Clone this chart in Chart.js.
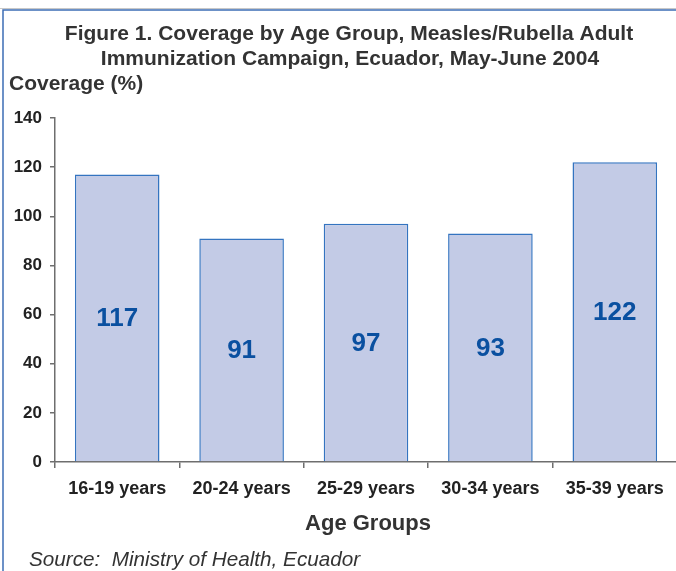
<!DOCTYPE html>
<html>
<head>
<meta charset="utf-8">
<script src="https://cdn.jsdelivr.net/npm/chart.js@4.4.1/dist/chart.umd.min.js"></script>
<style>
html, body { margin: 0; padding: 0; background: #fff; overflow: hidden; }
#wrap { position: relative; width: 680px; height: 571px; }
</style>
</head>
<body>
<div id="wrap"><canvas id="cv" width="680" height="571"></canvas></div>
<script>
// data
var ageGroups = ["16-19 years", "20-24 years", "25-29 years", "30-34 years", "35-39 years"];
var coverage = [117, 91, 97, 93, 122];
var yTicks = [0, 20, 40, 60, 80, 100, 120, 140];

var titleLines = [
    "Figure 1. Coverage by Age Group, Measles/Rubella Adult",
    "Immunization Campaign, Ecuador, May-June 2004"
];
var yName = "Coverage (%)";
var xName = "Age Groups";
var source = "Source:  Ministry of Health, Ecuador";

var FONT = "'Liberation Sans', Arial, sans-serif";

var textPlug = {
    id: "texts",
    beforeDraw: function (ch) {
        var g = ch.ctx;
        g.save();
        // frame
        g.strokeStyle = "#c8c8c8";
        g.lineWidth = 1;
        g.beginPath();
        g.moveTo(0, 8.5);
        g.lineTo(680, 8.5);
        g.stroke();
        g.strokeStyle = "#3d6db5";
        g.lineWidth = 1.5;
        g.beginPath();
        g.moveTo(3, 571);
        g.lineTo(3, 10);
        g.lineTo(680, 10);
        g.stroke();
        g.restore();
    },
    afterDraw: function (ch) {
        var g = ch.ctx;
        g.save();
        g.fillStyle = "#333";
        g.textBaseline = "alphabetic";
        g.font = "bold 21px " + FONT;
        g.textAlign = "center";
        g.fillText(titleLines[0], 349, 40);
        g.fillText(titleLines[1], 350, 65);
        g.textAlign = "left";
        g.fillText(yName, 9, 90);
        g.font = "bold 22px " + FONT;
        g.textAlign = "center";
        g.fillText(xName, 368, 530);
        g.font = "italic 20.7px " + FONT;
        g.textAlign = "left";
        g.fillText(source, 29, 566);

        // value labels in the middle of each bar
        var meta = ch.getDatasetMeta(0);
        g.font = "bold 26px " + FONT;
        g.fillStyle = "#0a50a0";
        g.textAlign = "center";
        g.textBaseline = "middle";
        meta.data.forEach(function (b, i) {
            g.fillText(String(coverage[i]), b.x, (b.y + b.base) / 2 + 1);
        });
        g.restore();
    }
};

new Chart(document.getElementById("cv"), {
    type: "bar",
    data: {
        labels: ageGroups,
        datasets: [
            {
                data: coverage,
                backgroundColor: "#c3cbe6",
                borderColor: "#3474c0",
                borderWidth: 1.5,
                categoryPercentage: 1,
                barPercentage: 0.68
            }
        ]
    },
    options: {
        responsive: false,
        animation: false,
        layout: { padding: { left: 0, right: 3, top: 118, bottom: 0 } },
        plugins: {
            legend: { display: false },
            tooltip: { enabled: false }
        },
        scales: {
            x: {
                afterFit: function (s) { s.height = 109; },
                grid: {
                    offset: true,
                    drawOnChartArea: false,
                    tickLength: 6,
                    color: "#6e6e6e",
                    lineWidth: 1.5
                },
                border: { color: "#6e6e6e", width: 1.5 },
                ticks: {
                    color: "#222",
                    padding: 10,
                    maxRotation: 0,
                    font: { family: FONT, size: 18, weight: "bold" }
                }
            },
            y: {
                min: 0,
                max: 140,
                afterFit: function (s) { s.width = 55; },
                afterBuildTicks: function (s) {
                    s.ticks = yTicks.map(function (v) { return { value: v }; });
                },
                grid: {
                    drawOnChartArea: false,
                    tickLength: 5,
                    color: "#6e6e6e",
                    lineWidth: 1.5
                },
                border: { color: "#6e6e6e", width: 1.5 },
                ticks: {
                    color: "#222",
                    padding: 8,
                    font: { family: FONT, size: 17, weight: "bold" }
                }
            }
        }
    },
    plugins: [textPlug]
});
</script>
</body>
</html>
